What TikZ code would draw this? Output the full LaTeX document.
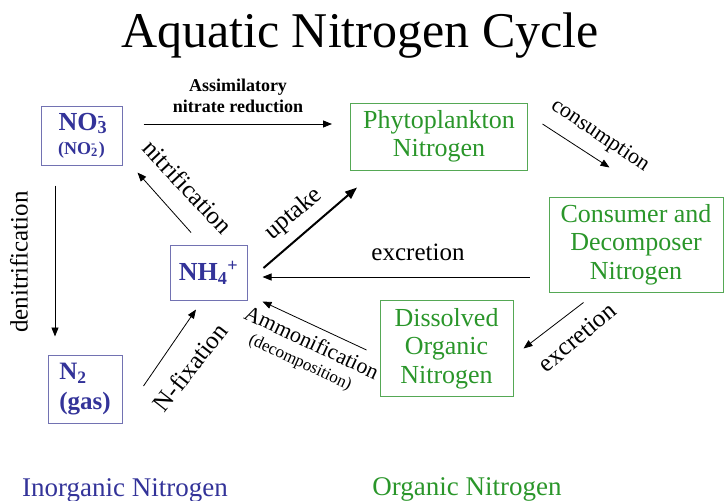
\documentclass[tikz,border=0pt]{standalone}
\usepackage{fontspec}
\setmainfont{Liberation Serif}
\usepackage{tikz}
\usetikzlibrary{arrows.meta,positioning,calc}
\definecolor{InT}{HTML}{333399}
\definecolor{InB}{HTML}{7272B2}
\definecolor{OrT}{HTML}{2A962A}
\definecolor{OrB}{HTML}{55A855}
\newcommand{\fsz}[2]{\fontsize{#1}{#2}\selectfont}

\begin{document}
\begin{tikzpicture}[x=1pt,y=-1pt,
  inbox/.style={draw=InB,line width=1pt,text=InT,font=\bfseries\fsz{26}{29},align=center,inner sep=0pt},
  orbox/.style={draw=OrB,line width=1pt,text=OrT,font=\fsz{26}{28.5},align=center,inner sep=0pt},
  flow/.style={-{Triangle[length=9pt,width=7pt]},line width=.8pt},
  lab/.style={font=\fsz{25}{27},inner sep=0pt}]
\useasboundingbox (0,0) rectangle (724,501);
\node[font=\fsz{50}{50},anchor=base] (title) at (360,47) {Aquatic Nitrogen Cycle};

% inorganic pools
\node[inbox,minimum width=81,minimum height=59] (no3) at (81.5,135.5) {NO\rlap{\textsubscript{3}}\textsuperscript{-}\\[-5pt]{\fsz{18}{20}(NO\rlap{\textsubscript{2}}\textsuperscript{-}\,)}};
\node[inbox,minimum width=77,minimum height=55] (nh4) at (208.5,272.5) {NH\textsubscript{4}\textsuperscript{+}};
\node[inbox,minimum width=74,minimum height=68,align=left,font=\bfseries\fsz{25}{30}] (n2) at (85,389) {N\textsubscript{2}\\(gas)};

% organic pools
\node[orbox,minimum width=177,minimum height=67] (phyto) at (439,136.5) {Phytoplankton\\Nitrogen};
\node[orbox,minimum width=174,minimum height=95] (cons) at (636,244.5) {Consumer and\\Decomposer\\Nitrogen};
\node[orbox,minimum width=133,minimum height=96] (dis) at (446.5,348.5) {Dissolved\\Organic\\Nitrogen};

% flows
\draw[flow] ($(no3.east)+(21,-11.5)$) -- ($(phyto.west)+(-18,-12.5)$);
\draw[flow] ($(nh4.north)+(-17.5,-12)$) -- ($(no3.south east)+(15,7)$);
\draw[-{Triangle[length=12pt,width=9pt]},line width=2pt] ($(nh4.east)+(16,-4.5)$) -- ($(phyto.south west)+(7,17)$);
\draw[flow] ($(phyto.east)+(14.5,-12.5)$) -- ($(cons.north west)+(61,-29)$);
\draw[flow] ($(cons.west)+(-19,32.5)$) -- ($(nh4.east)+(15,4.5)$);
\draw[flow] ($(cons.south west)+(35,10)$) -- ($(dis.east)+(10,0)$);
\draw[flow] ($(dis.west)+(-13,1.5)$) -- ($(nh4.south east)+(15,1)$);
\draw[flow] ($(n2.east)+(21,-3)$) -- ($(nh4.south)+(-12.5,9)$);
\draw[flow] ($(no3.south)+(-26.5,20)$) -- ($(n2.north)+(-30,-18)$);

% flow labels
\node[lab,font=\bfseries\fsz{18}{21},align=center] (assim) at (238,96) {Assimilatory\\nitrate reduction};
\node[lab,rotate=-47] (nitr) at (188,187) {nitrification};
\node[lab,rotate=40] (upt) at (294,214) {uptake};
\node[lab,font=\fsz{22}{24},rotate=-34] (consum) at (600,136) {consumption};
\node[lab,anchor=base] (excr1) at (418,260) {excretion};
\node[lab,rotate=40] (excr2) at (577,337) {excretion};
\node[lab,font=\fsz{22}{24},rotate=-25] (ammo) at (312,342) {Ammonification};
\node[lab,font=\fsz{17}{19},rotate=-25] (decomp) at (300,363) {(decomposition)};
\node[lab,rotate=52] (nfix) at (190,367) {N-fixation};
\node[lab,rotate=90] (denit) at (19,262) {denitrification};

\node[font=\fsz{27}{30},text=InT,anchor=base] (inorg) at (125,496) {Inorganic Nitrogen};
\node[font=\fsz{27}{30},text=OrT,anchor=base] (org) at (467,495) {Organic Nitrogen};
\end{tikzpicture}
\end{document}
